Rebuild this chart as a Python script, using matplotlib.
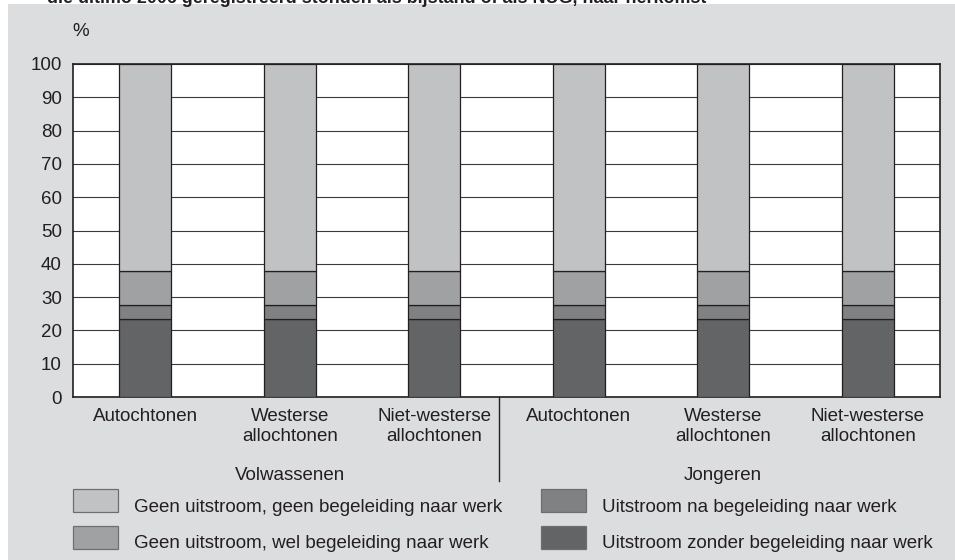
import numpy as np
import matplotlib
matplotlib.use('Agg')
import matplotlib.pyplot as plt
from matplotlib.patches import Rectangle

plt.rcParams['font.family'] = ['Liberation Sans', 'DejaVu Sans']

# data
categories = ['Autochtonen', 'Westerse\nallochtonen', 'Niet-westerse\nallochtonen',
              'Autochtonen', 'Westerse\nallochtonen', 'Niet-westerse\nallochtonen']
groups = ['Volwassenen', 'Jongeren']
zonder = [23.3, 23.3, 23.3, 23.3, 23.3, 23.3]      # uitstroom zonder begeleiding
na_begel = [4.2, 4.2, 4.2, 4.2, 4.2, 4.2]          # uitstroom na begeleiding
wel_begel = [10.3, 10.3, 10.3, 10.3, 10.3, 10.3]   # geen uitstroom, wel begeleiding
geen = [62.2, 62.2, 62.2, 62.2, 62.2, 62.2]        # geen uitstroom, geen begeleiding
yticks = list(range(0, 101, 10))

series = [
    (zonder, '#636466', 'Uitstroom zonder begeleiding naar werk'),
    (na_begel, '#808183', 'Uitstroom na begeleiding naar werk'),
    (wel_begel, '#a0a1a3', 'Geen uitstroom, wel begeleiding naar werk'),
    (geen, '#c1c2c4', 'Geen uitstroom, geen begeleiding naar werk'),
]

W, H = 955, 560
FS = 13.5
TXT = '#231f20'
fig = plt.figure(figsize=(W / 100, H / 100), dpi=100)
fig.patch.set_facecolor('white')
# grijs vlak achter de grafiek
fig.patches.append(Rectangle((8 / W, 0), 1, 1 - 4 / H, transform=fig.transFigure,
                             facecolor='#dcdddf', edgecolor='none', zorder=-10))
# titel valt grotendeels buiten beeld (zoals in het origineel)
fig.text(47 / W, 1 - 3 / H, 'die ultimo 2006 geregistreerd stonden als bijstand of als NUG, naar herkomst',
         fontsize=12.9, fontweight='bold', va='baseline', ha='left', color=TXT)

ax = fig.add_axes([73 / W, 1 - 397 / H, 867 / W, 333 / H])
ax.set_facecolor('white')
x = np.arange(len(categories))
bottom = np.zeros(len(categories))
for vals, col, lab in series:
    ax.bar(x, vals, width=0.36, bottom=bottom, color=col, edgecolor=TXT, linewidth=0.9, zorder=3)
    bottom += np.array(vals)

ax.set_xlim(-0.5, len(categories) - 0.5)
ax.set_ylim(0, 100)
ax.set_yticks(yticks)
ax.set_yticklabels([str(t) for t in yticks], fontsize=FS, color=TXT)
ax.set_xticks(x)
ax.set_xticklabels(categories, fontsize=FS, color=TXT, linespacing=1.25)
ax.tick_params(axis='y', length=0, pad=8)
ax.tick_params(axis='x', length=0, pad=8)
ax.grid(axis='y', color='#3a3a3c', linewidth=0.8, zorder=0)
for s in ax.spines.values():
    s.set_color(TXT)
    s.set_linewidth(1.2)

fig.text(72 / W, 1 - 31 / H, '%', fontsize=FS, color=TXT, ha='left', va='center')

# groepslabels en scheidingslijn
fig.text(290 / W, 1 - 476 / H, groups[0], fontsize=FS, ha='center', va='center', color=TXT)
fig.text(723 / W, 1 - 476 / H, groups[1], fontsize=FS, ha='center', va='center', color=TXT)
fig.add_artist(plt.Line2D([499 / W, 499 / W], [1 - 397 / H, 1 - 481 / H],
                          transform=fig.transFigure, color=TXT, linewidth=1.0))

# legenda met de hand
leg = [(series[3], 73, 489), (series[2], 73, 526), (series[1], 541, 489), (series[0], 541, 526)]
for (vals, col, lab), lx, ly in leg:
    fig.patches.append(Rectangle((lx / W, 1 - (ly + 23) / H), 45 / W, 23 / H, transform=fig.transFigure,
                                 facecolor=col, edgecolor='#6d6e70', linewidth=0.9))
    fig.text((lx + 61) / W, 1 - (ly + 18) / H, lab, fontsize=FS, ha='left', va='center', color=TXT)

fig.savefig('out.png', dpi=100)
